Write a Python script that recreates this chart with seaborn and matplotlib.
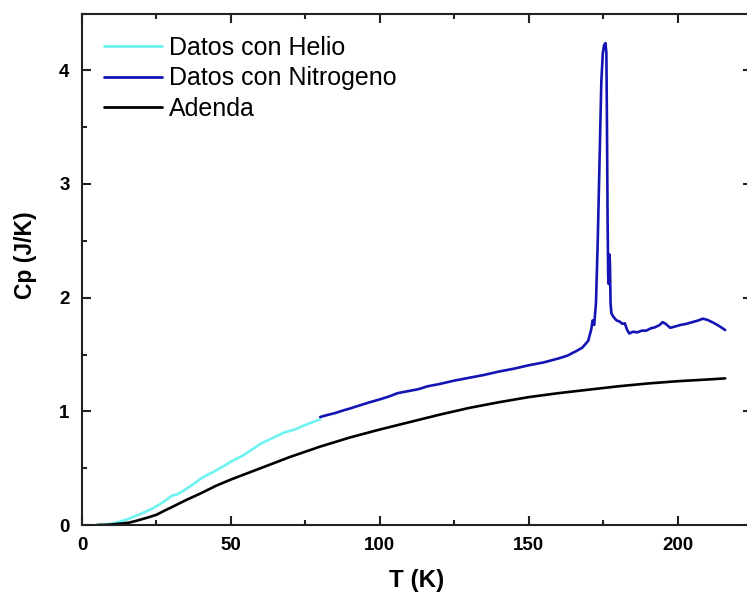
import numpy as np
import pandas as pd
import matplotlib
matplotlib.use("Agg")
import matplotlib.pyplot as plt
from matplotlib.ticker import MultipleLocator
import seaborn as sns

# Heat capacity measurements, temperature in K and Cp in J/K
t_helio = [5, 8, 10, 12, 14, 16, 18, 20, 22, 24, 26, 28, 30, 32, 34, 36, 38,
           40, 42, 44, 46, 48, 50, 52, 54, 56, 58, 60, 62, 64, 66, 68, 70,
           72, 74, 76, 78, 80]
cp_helio = [0.0, 0.005, 0.012, 0.025, 0.04, 0.058, 0.08, 0.10, 0.125, 0.15,
            0.18, 0.215, 0.255, 0.27, 0.30, 0.335, 0.37, 0.41, 0.44, 0.465,
            0.495, 0.525, 0.557, 0.585, 0.61, 0.645, 0.68, 0.715, 0.74, 0.765,
            0.79, 0.815, 0.83, 0.845, 0.87, 0.89, 0.91, 0.93]

t_nitro = [80, 82, 85, 88, 90, 93, 96, 100, 103, 106, 110, 113, 116, 120,
           125, 130, 135, 140, 145, 150, 155, 160, 163, 166, 168, 170, 171,
           171.5, 172, 172.6, 173.2, 173.8, 174.4, 174.9, 175.3, 175.8, 176.1,
           176.3, 176.5, 176.7, 176.9, 177.1, 177.3, 177.5, 177.8, 178.5,
           179.5, 180.5, 181.5, 182.3, 183, 183.8, 185, 186.5, 188, 189.5,
           191, 192.5, 194, 195, 196, 197.5, 199, 201, 203, 205, 207, 208.5,
           210, 212, 214, 216]
cp_nitro = [0.95, 0.965, 0.985, 1.01, 1.025, 1.05, 1.075, 1.105, 1.13, 1.16,
            1.18, 1.195, 1.22, 1.24, 1.27, 1.295, 1.32, 1.35, 1.375, 1.405,
            1.43, 1.465, 1.49, 1.53, 1.56, 1.62, 1.72, 1.80, 1.76, 1.95, 2.5,
            3.2, 3.9, 4.15, 4.22, 4.24, 4.15, 3.5, 2.7, 2.2, 2.12, 2.38, 2.3,
            1.95, 1.86, 1.83, 1.80, 1.79, 1.77, 1.775, 1.72, 1.685, 1.70,
            1.695, 1.71, 1.71, 1.73, 1.74, 1.76, 1.785, 1.77, 1.735, 1.745,
            1.76, 1.77, 1.785, 1.80, 1.815, 1.805, 1.78, 1.75, 1.715]

t_adenda = [5, 8, 10, 12, 14, 16, 18, 20, 22, 25, 28, 30, 35, 40, 45, 50, 55,
            60, 65, 70, 75, 80, 85, 90, 95, 100, 110, 120, 130, 140, 150, 160,
            170, 180, 190, 200, 210, 216]
cp_adenda = [0.0, 0.002, 0.005, 0.01, 0.015, 0.022, 0.035, 0.05, 0.065, 0.09,
             0.13, 0.155, 0.22, 0.28, 0.345, 0.40, 0.45, 0.50, 0.55, 0.60,
             0.645, 0.69, 0.73, 0.77, 0.805, 0.84, 0.905, 0.97, 1.03, 1.08,
             1.125, 1.16, 1.19, 1.22, 1.245, 1.265, 1.28, 1.29]

labels = ["Datos con Helio", "Datos con Nitrogeno", "Adenda"]
colors = ["#6ff2f2", "#1414b4", "#000000"]

sns.set_style("ticks")
plt.rcParams["font.family"] = ["Liberation Sans", "DejaVu Sans"]
plt.rcParams["text.color"] = "black"
plt.rcParams["axes.labelcolor"] = "black"

fig = plt.figure(figsize=(7.47, 5.94), dpi=100)
ax = fig.add_axes([82 / 747, 69 / 594, (752 - 82) / 747, (525 - 13.5) / 594])

series = [(t_helio, cp_helio), (t_nitro, cp_nitro), (t_adenda, cp_adenda)]
for (t, cp), lab, col in zip(series, labels, colors):
    sns.lineplot(x=t, y=cp, ax=ax, color=col, lw=1.9, label=lab,
                 sort=False, estimator=None)

ax.set_xlim(0, 225)
ax.set_ylim(0, 4.5)
ax.xaxis.set_major_locator(MultipleLocator(50))
ax.xaxis.set_minor_locator(MultipleLocator(25))
ax.yaxis.set_major_locator(MultipleLocator(1))
ax.yaxis.set_minor_locator(MultipleLocator(0.5))
ax.tick_params(which="both", direction="in", top=True, right=True,
               width=1.5, colors="#222222", labelcolor="black")
ax.tick_params(which="major", length=6.5, labelsize=13.5, pad=9)
ax.tick_params(which="minor", length=3.6)
for lbl in ax.get_xticklabels() + ax.get_yticklabels():
    lbl.set_fontweight("bold")
for sp in ax.spines.values():
    sp.set_linewidth(1.5)
    sp.set_color("#222222")

ax.set_xlabel("T (K)", fontsize=17.5, fontweight="bold", labelpad=10.5)
ax.set_ylabel("Cp (J/K)", fontsize=16.5, fontweight="bold")
ax.yaxis.set_label_coords(-0.067, 0.528)

leg = ax.legend(loc="upper left", frameon=False, fontsize=18,
                handlelength=2.3, handletextpad=0.3, labelspacing=0.26,
                borderaxespad=0.0, bbox_to_anchor=(0.018, 0.976))
for h in leg.get_lines():
    h.set_linewidth(2.0)

fig.savefig("out.png", dpi=100)
